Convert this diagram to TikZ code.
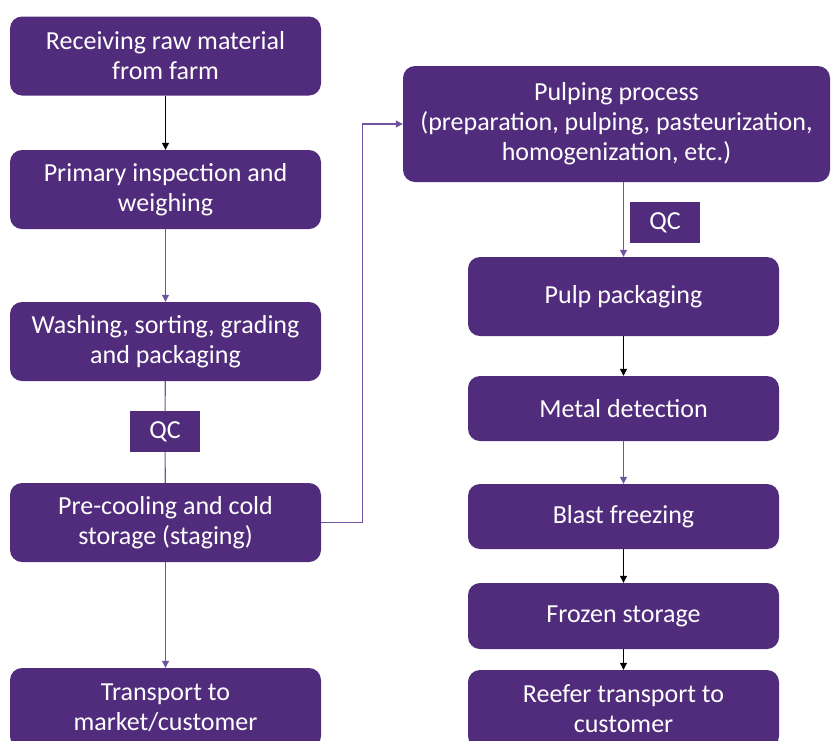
\documentclass[tikz,border=0pt]{standalone}
\usepackage{fontspec}
\setmainfont{Carlito}
\usetikzlibrary{arrows.meta,positioning,calc}
\definecolor{boxcolor}{RGB}{81, 44, 125}
\definecolor{linecolor}{RGB}{112, 84, 160}

\begin{document}
\begin{tikzpicture}[x=1pt, y=-1pt,
    stage/.style={rectangle, rounded corners=12pt, fill=boxcolor, text=white, minimum width=311pt, minimum height=79pt, align=center, inner sep=0pt, font=\fontsize{26}{30}\selectfont},
    qc/.style={rectangle, fill=boxcolor, text=white, minimum width=70pt, minimum height=41pt, inner sep=0pt, font=\fontsize{26}{30}\selectfont},
    arr/.style={-{Triangle[length=7pt,width=7pt]}, line width=1.1pt},
]
    \useasboundingbox (0,0) rectangle (833,740);

    % Left column
    \node[stage] (receive) at (165.5, 56) {Receiving raw material\\from farm};
    \node[stage] (inspect) at (165.5, 189.5) {Primary inspection and\\weighing};
    \node[stage] (wash) at (165.5, 341.5) {Washing, sorting, grading\\and packaging};
    \node[qc] (qcleft) at (165, 431.5) {QC};
    \node[stage] (precool) at (165.5, 522.5) {Pre-cooling and cold\\storage (staging)};
    \node[stage, minimum height=80pt] (market) at (165.5, 708) {Transport to\\market/customer};

    % Right column
    \node[stage, minimum width=427pt, minimum height=116pt] (pulping) at (616.5, 124) {Pulping process\\(preparation, pulping, pasteurization,\\homogenization, etc.)};
    \node[qc] (qcright) at (665, 222.5) {QC};
    \node[stage] (pulppack) at (623.5, 296.5) {Pulp packaging};
    \node[stage, minimum height=65pt] (metal) at (623.5, 408.5) {Metal detection};
    \node[stage, minimum height=65pt] (blast) at (623.5, 516.5) {Blast freezing};
    \node[stage, minimum height=66pt] (frozen) at (623.5, 616) {Frozen storage};
    \node[stage, minimum height=78pt] (reefer) at (623.5, 709) {Reefer transport to\\customer};

    % Arrows
    \draw[arr, black] (receive) -- (inspect);
    \draw[arr, linecolor] (inspect) -- (wash);
    \draw[line width=1.1pt, linecolor] (wash) -- (qcleft) -- (precool);
    \draw[arr, linecolor] (precool) -- (market);
    \draw[arr, linecolor] (precool.east) -- ++(41,0) |- (pulping.west);
    \draw[arr, linecolor] (pulping.south -| pulppack) -- (pulppack);
    \draw[arr, black] (pulppack) -- (metal);
    \draw[arr, linecolor] (metal) -- (blast);
    \draw[arr, black] (blast) -- (frozen);
    \draw[arr, black] (frozen) -- (reefer);
\end{tikzpicture}
\end{document}
